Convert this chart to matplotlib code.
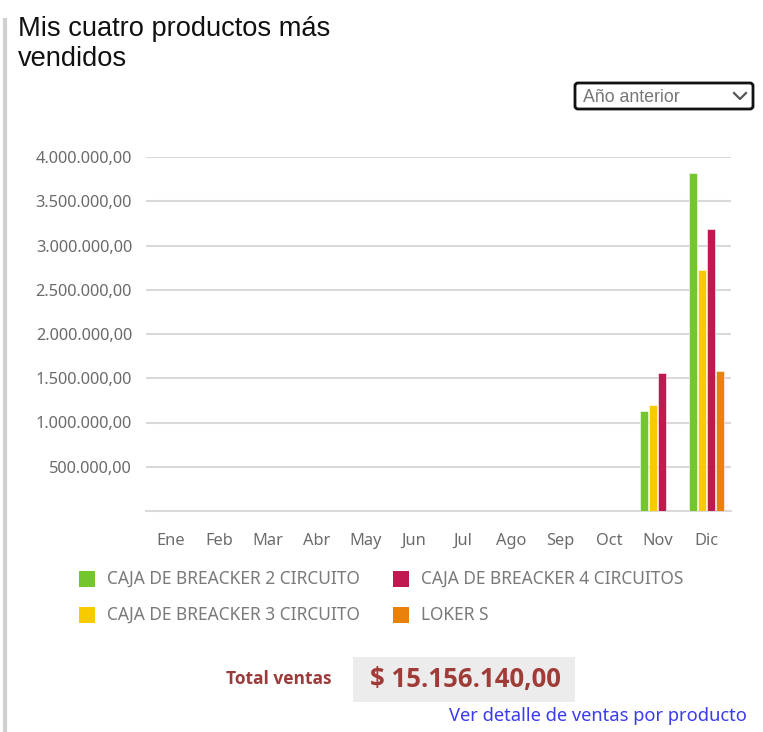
import matplotlib.pyplot as plt
from matplotlib.patches import FancyBboxPatch, Rectangle
from matplotlib.lines import Line2D
import numpy as np

# data
months = ['Ene', 'Feb', 'Mar', 'Abr', 'May', 'Jun', 'Jul', 'Ago', 'Sep', 'Oct', 'Nov', 'Dic']
products = ['CAJA DE BREACKER 2 CIRCUITO', 'CAJA DE BREACKER 3 CIRCUITO',
            'CAJA DE BREACKER 4 CIRCUITOS', 'LOKER S']
colors = ['#74c62e', '#f8cb00', '#c01850', '#e8820c']
breacker2 = [0, 0, 0, 0, 0, 0, 0, 0, 0, 0, 1130000, 3820000]
breacker3 = [0, 0, 0, 0, 0, 0, 0, 0, 0, 0, 1200000, 2720000]
breacker4 = [0, 0, 0, 0, 0, 0, 0, 0, 0, 0, 1560000, 3190000]
loker = [0, 0, 0, 0, 0, 0, 0, 0, 0, 0, 0, 1580000]
yticks = [500000, 1000000, 1500000, 2000000, 2500000, 3000000, 3500000, 4000000]
total_label = '$ 15.156.140,00'

W, H = 763, 732
fig = plt.figure(figsize=(W / 100, H / 100), dpi=100)

def fx(x):
    return x / W

def fy(y):
    return 1 - y / H

grey = '#6b6b6b'
fnt = 'Noto Sans'
bold_fnt = ['Open Sans', 'DejaVu Sans']

# left border
fig.add_artist(Line2D([fx(5), fx(5)], [fy(20), fy(732)], color='#d0d0d0', lw=3))

# title
fig.text(fx(18), fy(44), 'Mis cuatro productos más\nvendidos', fontsize=19.6,
         family='Liberation Sans', va='center', ha='left', linespacing=1.2, color='#111111')

# dropdown
fig.add_artist(FancyBboxPatch((fx(575), fy(109)), fx(178), 26 / H,
                              boxstyle='round,pad=0,rounding_size=0.004',
                              fc='white', ec='#111111', lw=2, transform=fig.transFigure))
fig.text(fx(583), fy(97), 'Año anterior', fontsize=12.8, family='Liberation Sans',
         color='#777777', va='center', ha='left')
fig.add_artist(Line2D([fx(734), fx(740), fx(746)], [fy(93), fy(99), fy(93)],
                      color='#555555', lw=1.6))

# chart
ax = fig.add_axes([fx(146), fy(511), fx(731) - fx(146), (511 - 157) / H])
x = np.arange(len(months))
series = [breacker2, breacker3, breacker4, loker]
slot = 0.186
for k in range(4):
    ax.bar(x + (k - 1.5) * slot, series[k], width=slot * 0.9, color=colors[k],
           edgecolor='white', linewidth=0.4, zorder=3)

ax.set_xlim(-0.5, 11.5)
ax.set_ylim(0, 4000000)
ax.set_yticks(yticks)
ax.set_yticklabels(['{:,.2f}'.format(v).replace(',', 'X').replace('.', ',').replace('X', '.') for v in yticks])
ax.set_xticks(x)
ax.set_xticklabels(months)
for s in ['top', 'right', 'left']:
    ax.spines[s].set_visible(False)
ax.spines['bottom'].set_color('#d9d9d9')
ax.spines['bottom'].set_linewidth(1.5)
ax.grid(axis='y', color='#d9d9d9', lw=1.5, zorder=0)
ax.tick_params(axis='both', length=0, colors=grey, labelsize=11.8)
ax.tick_params(axis='y', pad=10)
ax.tick_params(axis='x', pad=16)
for lab in ax.get_xticklabels() + ax.get_yticklabels():
    lab.set_family(fnt)

# legend
leg_pos = [(79, 579), (79, 615), (393, 579), (393, 615)]
for k in range(4):
    lx, ly = leg_pos[k]
    fig.add_artist(Rectangle((fx(lx), fy(ly + 8)), fx(16), 16 / H, fc=colors[k], ec='none',
                             transform=fig.transFigure))
    fig.text(fx(lx + 28), fy(ly), products[k], fontsize=12.5, family=fnt, color='#7a7a7a',
             va='center', ha='left')

# total
fig.text(fx(332), fy(679), 'Total ventas', fontsize=12.5, family=bold_fnt, fontweight='bold',
         color='#9b3a3a', va='center', ha='right')
fig.add_artist(Rectangle((fx(353), fy(702)), fx(222), 45 / H, fc='#ececec', ec='none',
                         transform=fig.transFigure))
fig.text(fx(465), fy(679), total_label, fontsize=18.5, family=bold_fnt, fontweight='bold',
         color='#a03c38', va='center', ha='center')
fig.text(fx(747), fy(716), 'Ver detalle de ventas por producto', fontsize=13.2, family=fnt,
         color='#3b3bf0', va='center', ha='right')

fig.savefig('out.png', dpi=100)
